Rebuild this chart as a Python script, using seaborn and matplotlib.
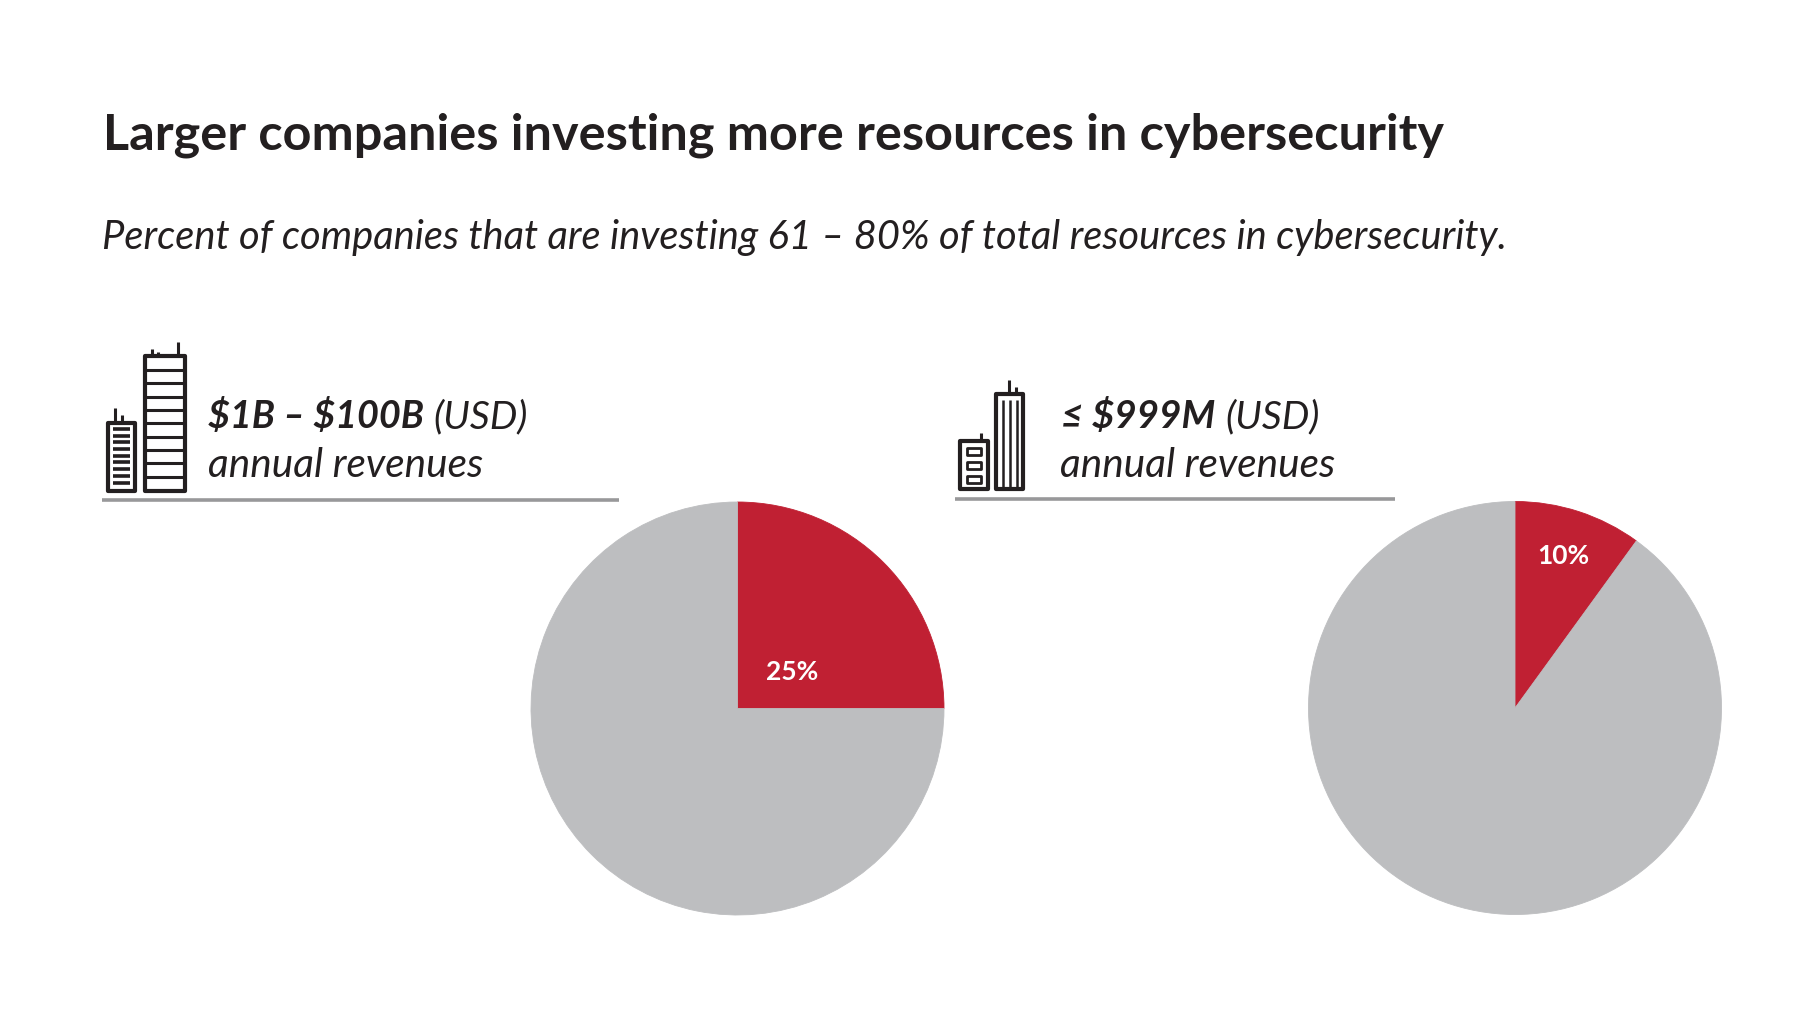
import matplotlib.pyplot as plt
from matplotlib.patches import Rectangle
import seaborn as sns

# Data
groups = ["$1B – $100B", "≤ $999M"]
investing = [25, 10]
other = [75, 90]
pct_labels = ["25%", "10%"]

title = "Larger companies investing more resources in cybersecurity"
subtitle = "Percent of companies that are investing 61 – 80% of total resources in cybersecurity."

RED = "#C02033"
GREY = "#BDBEC0"
RULE = "#98989A"
INK = "#231F20"
W, H = 1811, 1023

sns.set_theme(style="white")
plt.rcParams["font.family"] = ["Lato", "Open Sans", "DejaVu Sans"]

fig = plt.figure(figsize=(W / 100, H / 100), dpi=100, facecolor="white")

# Full page axes in pixels, for text and icons
page = fig.add_axes([0, 0, 1, 1])
page.set_xlim(0, W)
page.set_ylim(H, 0)
page.axis("off")


def put(x, y, s, size, weight="normal", style="normal", color=INK, ha="left", va="baseline"):
    page.text(x, y, s, fontsize=size, fontweight=weight, fontstyle=style, color=color,
              ha=ha, va=va, parse_math=False)


def box(x0, y0, x1, y1, lw=3.0):
    page.add_patch(Rectangle((x0, y0), x1 - x0, y1 - y0, fill=False, ec=INK, lw=lw, joinstyle="round"))


def vline(x, y0, y1, lw=2.2):
    page.plot([x, x], [y0, y1], color=INK, lw=lw, solid_capstyle="butt")


def hline(x0, x1, y, lw=2.2):
    page.plot([x0, x1], [y, y], color=INK, lw=lw, solid_capstyle="butt")


def left_icon():
    box(145, 356, 185, 491)
    for y in [370, 383, 397, 410, 423, 437, 450, 463, 477]:
        hline(145, 185, y)
    vline(178, 342, 356)
    vline(152, 349, 356)
    vline(158, 352, 356)
    box(108, 423, 135, 491)
    for y in [429, 436, 442, 449, 456, 462, 469, 476, 483]:
        hline(113, 130, y, lw=2.6)
    vline(115, 408, 423)
    vline(122, 415, 423)


def right_icon():
    box(996, 394, 1023, 489)
    for x in [1003, 1009.5, 1016.5]:
        vline(x, 400, 489, lw=1.8)
    vline(1009, 380, 394)
    vline(1016, 387, 394)
    box(960, 441, 988, 489)
    for y0, y1 in [(448, 455), (462, 469), (476, 483)]:
        box(967, y0, 981, y1, lw=2.0)
    vline(981, 433, 441)


# Heading
put(103, 150, title, 36.3, weight="bold")
put(102, 249, subtitle, 28.7, style="italic")

# Panel headers
left_icon()
put(208, 428, groups[0], 27.2, weight="bold", style="italic")
put(433, 428, "(USD)", 28.1, style="italic")
put(208, 477, "annual revenues", 29.2, style="italic")
page.plot([102, 619], [500, 500], color=RULE, lw=2.6, solid_capstyle="butt")

right_icon()
put(1061, 428, groups[1], 27.8, weight="bold", style="italic")
put(1225, 428, "(USD)", 28.1, style="italic")
put(1060, 477, "annual revenues", 29.2, style="italic")
page.plot([955, 1395], [499, 499], color=RULE, lw=2.6, solid_capstyle="butt")

# Pies
centers = [(737.5, 708.5), (1515, 708)]
radius = 206.5
label_pos = [(792, 672), (1563, 556)]
for i, (cx, cy) in enumerate(centers):
    ax = fig.add_axes([(cx - radius) / W, 1 - (cy + radius) / H, 2 * radius / W, 2 * radius / H])
    wedges, _ = ax.pie([investing[i], other[i]], colors=[RED, GREY], startangle=90, counterclock=False, radius=1)
    # close the seam between the two slices
    for w in wedges:
        w.set_edgecolor(w.get_facecolor())
        w.set_linewidth(0.6)
    ax.set_xlim(-1, 1)
    ax.set_ylim(-1, 1)
    ax.set_zorder(0)

page.set_zorder(2)
page.patch.set_alpha(0)
for s, (x, y) in zip(pct_labels, label_pos):
    put(x, y, s, 19, weight="bold", color="white", ha="center", va="center")

fig.savefig("out.png", dpi=100, facecolor="white")
